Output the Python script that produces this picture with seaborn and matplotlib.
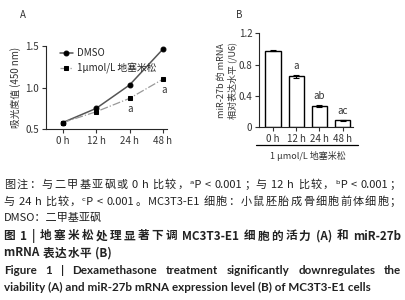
import re
import matplotlib
matplotlib.use('Agg')
import matplotlib.pyplot as plt
import numpy as np
import pandas as pd
import seaborn as sns

# Panel A: optical density (450 nm)
time_labels = ['0 h', '12 h', '24 h', '48 h']
od_dmso = [0.58, 0.75, 1.03, 1.46]
od_dex = [0.58, 0.71, 0.87, 1.10]
od_dex_marks = ['', '', 'a', 'a']

# Panel B: relative miR-27b expression
mir_values = [0.98, 0.65, 0.27, 0.09]
mir_errors = [0.012, 0.015, 0.012, 0.006]
mir_marks = ['', 'a', 'ab', 'ac']

legend_labels = ['DMSO', '1μmol/L 地塞米松']

caption_lines = [
    '图注：与二甲基亚砜或 0 h 比较，ᵃP < 0.001；与 12 h 比较，ᵇP < 0.001；',
    '与 24 h 比较，ᶜP < 0.001。MC3T3-E1 细胞：小鼠胚胎成骨细胞前体细胞；',
    'DMSO：二甲基亚砜',
]
title_cn = ['图 1 | 地塞米松处理显著下调 MC3T3-E1 细胞的活力 (A) 和 miR-27b',
            'mRNA 表达水平 (B)']
title_en = ['Figure 1 | Dexamethasone treatment significantly downregulates the',
            'viability (A) and miR-27b mRNA expression level (B) of MC3T3-E1 cells']

sns.set_style('ticks')
plt.rcParams['font.family'] = ['Noto Sans CJK SC', 'DejaVu Sans']
plt.rcParams['axes.linewidth'] = 0.8
plt.rcParams['xtick.major.width'] = 0.8
plt.rcParams['ytick.major.width'] = 0.8
plt.rcParams['xtick.major.size'] = 3
plt.rcParams['ytick.major.size'] = 3

fig = plt.figure(figsize=(4.05, 3.0), dpi=100)
W, H = 405, 300
renderer = fig.canvas.get_renderer()


def px_axes(l, t, r, b):
    return fig.add_axes([l / W, 1 - b / H, (r - l) / W, (b - t) / H])


CJK = '\u3000-\u303f\u4e00-\u9fff\uff00-\uffef'


def text_line(y, line, x0=4, right=None, gap=None, by_char=False, **kw):
    """Draw a line token by token; justify to `right` or use a fixed gap."""
    if right is None and gap is None:
        fig.text(x0 / W, 1 - y / H, line, va='center', ha='left', **kw)
        return None
    if by_char:
        # one token per CJK glyph or latin run; a following space stays attached
        tokens = re.findall(r'[%s] ?|[^\s%s]+ ?' % (CJK, CJK), line)
    else:
        tokens = line.split(' ')
    objs, widths = [], []
    for tok in tokens:
        t = fig.text(0, 1 - y / H, tok.replace(' ', '\u2009'), va='center',
                     ha='left', **kw)
        objs.append(t)
        widths.append(t.get_window_extent(renderer).width)
    if right is not None:
        gap = (right - x0 - sum(widths)) / max(len(tokens) - 1, 1)
    x = x0
    for t, w in zip(objs, widths):
        t.set_x(x / W)
        x += w + gap
    return gap


# ---- Panel A
axA = px_axes(46, 45.7, 167, 129.3)
pos = np.arange(len(time_labels))
df_a = pd.DataFrame({'t': np.concatenate([pos, pos]),
                     'od': od_dmso + od_dex,
                     'grp': [legend_labels[0]] * 4 + [legend_labels[1]] * 4})
sns.lineplot(data=df_a[df_a.grp == legend_labels[0]], x='t', y='od', ax=axA,
             color='#555555', lw=1.1, marker='o', markersize=3.5,
             markerfacecolor='black', markeredgecolor='black', label=legend_labels[0])
sns.lineplot(data=df_a[df_a.grp == legend_labels[1]], x='t', y='od', ax=axA,
             color='#999999', lw=0.9, linestyle='-.', marker='s', markersize=3.5,
             markerfacecolor='black', markeredgecolor='black', label=legend_labels[1])
for i, m in enumerate(od_dex_marks):
    if m:
        axA.text(pos[i] + 0.03, od_dex[i] - 0.13, m, ha='center', va='center',
                 fontsize=7, color='#333333')
axA.set_xlim(-0.5, 3.12)
axA.set_ylim(0.5, 1.5)
axA.set_xticks(pos)
axA.set_xticklabels(time_labels)
axA.set_yticks([0.5, 1.0, 1.5])
axA.tick_params(labelsize=7, pad=2, colors='#333333')
axA.set_xlabel('')
axA.set_ylabel('吸光度值 (450 nm)', fontsize=7, labelpad=3, color='#333333')
sns.despine(ax=axA)
axA.legend(loc='upper left', bbox_to_anchor=(0.08, 1.02), frameon=False,
           fontsize=7, handlelength=1.4, handletextpad=0.4,
           labelspacing=0.55, borderaxespad=0)

# ---- Panel B
axB = px_axes(259.3, 33.3, 353, 127.3)
df_b = pd.DataFrame({'t': time_labels, 'v': mir_values})
sns.barplot(data=df_b, x='t', y='v', ax=axB, color='white', edgecolor='black',
            linewidth=1.0, width=0.67)
axB.errorbar(np.arange(4), mir_values, yerr=mir_errors, fmt='none',
             ecolor='black', elinewidth=0.8, capsize=2.5, capthick=0.8)
for i, m in enumerate(mir_marks):
    if m:
        axB.text(i, mir_values[i] + mir_errors[i] + 0.05, m, ha='center',
                 va='bottom', fontsize=7, color='#333333')
axB.set_xlim(-0.6, 3.45)
axB.set_ylim(0, 1.2)
axB.set_yticks([0, 0.4, 0.8, 1.2])
axB.set_yticklabels(['0', '0.4', '0.8', '1.2'])
axB.tick_params(labelsize=7, pad=2, colors='#333333')
axB.set_xlabel('')
axB.set_ylabel('miR-27b 的 mRNA\n相对表达水平 (/U6)', fontsize=6.5,
               labelpad=1, color='#333333', linespacing=1.15)
sns.despine(ax=axB)
axB.plot([-0.035, 1.05], [-0.19, -0.19], transform=axB.transAxes,
         color='black', lw=0.9, clip_on=False)
axB.text(0.52, -0.31, '1 μmol/L 地塞米松', transform=axB.transAxes,
         ha='center', va='center', fontsize=6.5, color='#333333')

# ---- Panel letters
fig.text(23 / W, 1 - 15 / H, 'A', fontsize=7, ha='center', va='center', color='#333333')
fig.text(239 / W, 1 - 15 / H, 'B', fontsize=7, ha='center', va='center', color='#333333')

# ---- Caption
cap_kw = dict(fontsize=8.0, color='#222222')
text_line(185, caption_lines[0], right=401, by_char=True, **cap_kw)
text_line(202, caption_lines[1], right=401, by_char=True, **cap_kw)
text_line(218, caption_lines[2], **cap_kw)

cn_kw = dict(fontsize=8.4, color='#222222', fontweight='bold')
g = text_line(236, title_cn[0], right=401, by_char=True, **cn_kw)
text_line(253, title_cn[1], gap=g * 0.4, by_char=True, **cn_kw)

en_kw = dict(fontsize=8.4, color='#222222', fontweight='bold',
             family=['Lato', 'DejaVu Sans'])
text_line(270, title_en[0], right=401, **en_kw)
text_line(287, title_en[1], **en_kw)

fig.savefig('out.png', dpi=100)
